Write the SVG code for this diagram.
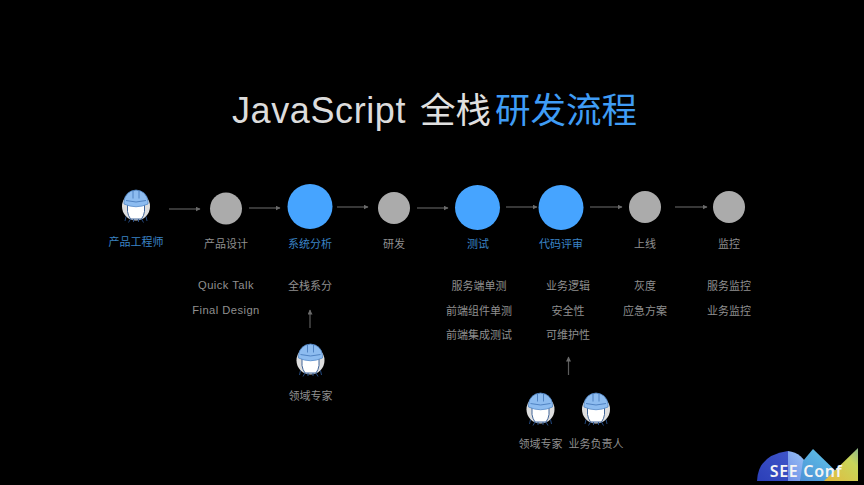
<svg xmlns="http://www.w3.org/2000/svg" xmlns:xlink="http://www.w3.org/1999/xlink" width="864" height="485" viewBox="0 0 864 485">
<style>
text{font-family:"Noto Sans CJK SC","Liberation Sans",sans-serif;text-anchor:middle;font-size:11px;fill:#8f8f8f}
.b{fill:#3a83c4}
.big{font-size:35.500px;font-weight:400;text-anchor:start}
.lat{font-family:"Liberation Sans","Noto Sans CJK SC",sans-serif;font-size:11.200px;letter-spacing:.45px}
.g{fill:#ababab}.c{fill:#46a4ff}
.ln{stroke:#5c5c5c;stroke-width:1.2;fill:none;marker-end:url(#a)}
</style>
<defs>
<marker id="a" markerWidth="6" markerHeight="6" refX="4.500" refY="2.500" orient="auto" markerUnits="userSpaceOnUse"><path d="M0 0L5 2.500L0 5z" fill="#6a6a6a"/></marker>
<linearGradient id="lg1" x1="0" y1="1" x2="1" y2="0"><stop offset="0" stop-color="#2b3fb8"/><stop offset="1" stop-color="#3f55c9"/></linearGradient>
<linearGradient id="lg2" x1="0" y1="1" x2="1" y2="0"><stop offset="0" stop-color="#6f8de8"/><stop offset="1" stop-color="#9cc8f5"/></linearGradient>
<linearGradient id="lg3" x1="0" y1="1" x2="1" y2="0"><stop offset="0" stop-color="#4c8fd6"/><stop offset="1" stop-color="#62cdea"/></linearGradient>
<linearGradient id="lg4" x1="0" y1="1" x2="1" y2="0"><stop offset="0" stop-color="#e3b83c"/><stop offset=".7" stop-color="#c9d65a"/><stop offset="1" stop-color="#8fb98a"/></linearGradient>
<g id="w">
<circle cx="0" cy="0" r="14" fill="#dedede"/>
<path d="M-8.500 -3V6Q-7 11 -5 12.500H5Q7 11 8.500 6V-3z" fill="#fff"/>
<path d="M-8.500 -2V5Q-8 9 -5.500 12.500H5.500Q8 9 8.500 5V-2" fill="none" stroke="#2c558f" stroke-width=".9"/>
<path d="M-5.500 12.500L-7.500 16M5.500 12.500L7.500 16M-11 14.500L-10 10M11 14.500L10 10M-2.500 12.500V15.500M2.500 12.500V15.500" fill="none" stroke="#27508c" stroke-width=".9"/>
<path d="M-12 -2.500V-5Q-11 -15.500 0 -16.500Q11 -15.500 12 -5V-2.500Q0 3 -12 -2.500z" fill="#8dbcf0" stroke="#5288c8" stroke-width=".8"/>
<path d="M-3 -16V-8M3 -16V-8M-10 -6Q0 -3 10 -6" fill="none" stroke="#4a7dbd" stroke-width=".9"/>
</g>
</defs>
<rect width="864" height="485" fill="#000"/>
<g id="title">
<text x="232" y="123" class="big" style="font-family:'Liberation Sans',sans-serif;font-size:36px;fill:#dcdcdc;letter-spacing:.6px">JavaScript</text>
<text x="420" y="123" class="big" style="fill:#e0e0e0">全栈</text>
<text x="495" y="123" class="big" style="fill:#3f9cf5">研发流程</text>
</g>
<g id="connectors">
<path class="ln" d="M169 209H200"/>
<path class="ln" d="M249 208H280"/>
<path class="ln" d="M337 207H368"/>
<path class="ln" d="M417 208H448"/>
<path class="ln" d="M506 207H537"/>
<path class="ln" d="M590 207H622"/>
<path class="ln" d="M675 207H707"/>
<path class="ln" d="M310 328V310"/>
<path class="ln" d="M568.500 375V357"/>
</g>
<g id="n-pe"><use xlink:href="#w" x="136" y="206.500"/><text x="136" y="246" class="b">产品工程师</text></g>
<g id="n-design"><circle class="g" cx="226" cy="208.500" r="16"/><text x="226" y="248">产品设计</text><text x="226" y="289" class="lat">Quick Talk</text><text x="226" y="314" class="lat">Final Design</text></g>
<g id="n-analysis"><circle class="c" cx="310" cy="206.500" r="22.500"/><text x="310" y="248" class="b">系统分析</text><text x="310" y="290">全栈系分</text></g>
<g id="n-dev"><circle class="g" cx="394" cy="208" r="16"/><text x="394" y="248">研发</text></g>
<g id="n-test"><circle class="c" cx="477.500" cy="207.500" r="22.500"/><text x="478" y="248" class="b">测试</text><text x="479" y="290">服务端单测</text><text x="479" y="315">前端组件单测</text><text x="479" y="339">前端集成测试</text></g>
<g id="n-review"><circle class="c" cx="561" cy="207.500" r="22.500"/><text x="561" y="248" class="b">代码评审</text><text x="568" y="290">业务逻辑</text><text x="568" y="315">安全性</text><text x="568" y="339">可维护性</text></g>
<g id="n-online"><circle class="g" cx="645" cy="207" r="16"/><text x="645" y="248">上线</text><text x="645" y="290">灰度</text><text x="645" y="315">应急方案</text></g>
<g id="n-monitor"><circle class="g" cx="729" cy="207" r="16"/><text x="729" y="248">监控</text><text x="729" y="290">服务监控</text><text x="729" y="315">业务监控</text></g>
<g id="n-expert1"><use xlink:href="#w" x="310.500" y="360.500"/><text x="310.500" y="400">领域专家</text></g>
<g id="n-expert2"><use xlink:href="#w" x="540.500" y="409.500"/><text x="540.500" y="448">领域专家</text></g>
<g id="n-owner"><use xlink:href="#w" x="596" y="409.500"/><text x="596" y="448">业务负责人</text></g>
<g id="logo">
<path d="M757 481Q758 455 788 451V481z" fill="url(#lg1)"/>
<path d="M788 451Q803 453 808 468L800 481H788z" fill="url(#lg2)"/>
<path d="M803 461L813 449L843 478L826 481H800z" fill="url(#lg3)"/>
<path d="M824 481L858 448V481z" fill="url(#lg4)"/>
<text x="806" y="477" style="font-family:'Noto Sans',sans-serif;font-size:16px;font-weight:600;letter-spacing:.7px;fill:#f4f4f4">SEE Conf</text>
</g>
</svg>
